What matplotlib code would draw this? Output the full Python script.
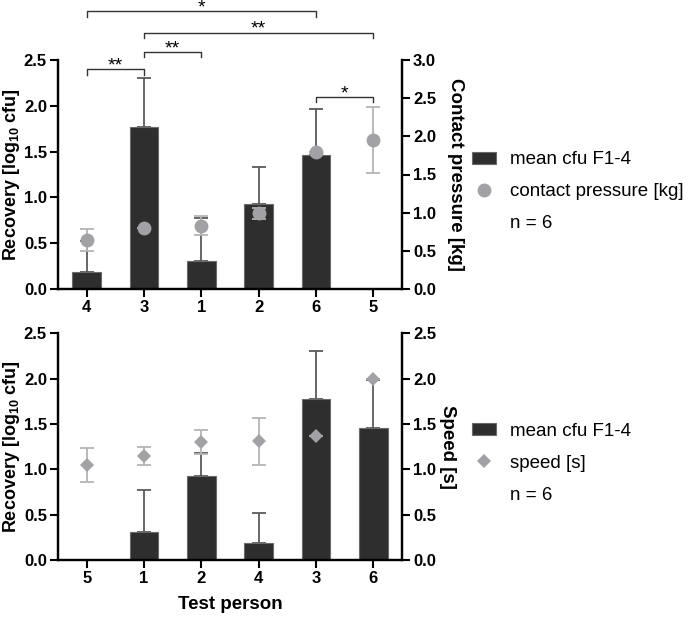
import matplotlib
matplotlib.use("Agg")
import matplotlib.pyplot as plt
from matplotlib.patches import Patch
from matplotlib.lines import Line2D
import numpy as np

plt.rcParams['font.family'] = ['Liberation Sans', 'DejaVu Sans']
plt.rcParams['mathtext.fontset'] = 'custom'
plt.rcParams['mathtext.bf'] = 'Liberation Sans:bold'
plt.rcParams['mathtext.rm'] = 'Liberation Sans:bold'
plt.rcParams['mathtext.default'] = 'bf'

# ---- data: top panel (sorted by contact pressure) ----
top_persons = ["4", "3", "1", "2", "6", "5"]
top_cfu = [0.19, 1.77, 0.31, 0.93, 1.46, 0.0]
top_cfu_sd = [0.33, 0.53, 0.46, 0.40, 0.51, 0.0]
pressure = [0.64, 0.80, 0.83, 0.99, 1.79, 1.95]
pressure_sd = [0.14, 0.0, 0.12, 0.07, 0.0, 0.43]

# significance brackets: (from index, to index, label, height in left-axis units)
brackets = [(0, 4, "*", 3.03), (1, 5, "**", 2.80), (1, 2, "**", 2.59),
            (0, 1, "**", 2.40), (4, 5, "*", 2.10)]

# ---- data: bottom panel (sorted by speed) ----
bot_persons = ["5", "1", "2", "4", "3", "6"]
bot_cfu = [0.0, 0.31, 0.93, 0.19, 1.77, 1.46]
bot_cfu_sd = [0.0, 0.46, 0.25, 0.33, 0.53, 0.52]
speed = [1.05, 1.15, 1.30, 1.31, 1.37, 2.00]
speed_sd = [0.19, 0.10, 0.13, 0.26, 0.0, 0.0]

BAR = '#2e2e2e'
BAR_EDGE = '#6a6a6a'
ERR = '#5a5a5a'
PT = '#a2a2a6'
PT_ERR = '#b4b4b4'

fig = plt.figure(figsize=(6.88, 6.22), dpi=100)
ax1 = fig.add_axes([58/688, 1 - 289/622, 344/688, 229/622])
ax2 = fig.add_axes([58/688, 1 - 560/622, 344/688, 226.7/622])


def style_axes(ax, rax):
    for a in (ax, rax):
        a.spines['top'].set_visible(False)
        for s in ('left', 'right', 'bottom'):
            a.spines[s].set_linewidth(1.6)
        a.tick_params(width=1.5, length=6, labelsize=12, pad=2)
        for lab in a.get_xticklabels() + a.get_yticklabels():
            lab.set_fontweight('bold')
    ax.set_xlim(-0.5, len(top_persons) - 0.5)


def draw_panel(ax, persons, cfu, cfu_sd, pts, pts_sd, marker, ms, rlim, rlabel, rpad):
    x = np.arange(len(persons))
    ax.bar(x, cfu, width=0.5, color=BAR, edgecolor=BAR_EDGE, linewidth=0.8, zorder=2)
    ax.errorbar(x, cfu, yerr=[np.zeros(len(cfu)), cfu_sd], fmt='none',
                ecolor=ERR, elinewidth=1.3, capsize=5, capthick=1.3, zorder=1)
    ax.set_ylim(0, 2.5)
    ax.set_yticks([0, 0.5, 1.0, 1.5, 2.0, 2.5])
    ax.set_xticks(x)
    ax.set_xticklabels(persons)
    ax.set_ylabel(r'Recovery [log$_{10}$ cfu]', fontsize=13, fontweight='bold', labelpad=1)

    rax = ax.twinx()
    rax.errorbar(x, pts, yerr=pts_sd, fmt='none', ecolor=PT_ERR,
                 elinewidth=1.3, capsize=5, capthick=1.3, zorder=2)
    rax.plot(x, pts, linestyle='none', marker=marker, ms=ms, color=PT,
             markeredgewidth=0, zorder=3)
    rax.set_ylim(*rlim)
    rax.set_yticks(np.arange(0, rlim[1] + 0.01, 0.5))
    rax.set_ylabel(rlabel, fontsize=13.5, fontweight='bold', rotation=-90,
                   labelpad=rpad, va='bottom')
    style_axes(ax, rax)
    return rax


rax1 = draw_panel(ax1, top_persons, top_cfu, top_cfu_sd, pressure, pressure_sd,
                  'o', 10, (0, 3.0), 'Contact pressure [kg]', 8)
rax2 = draw_panel(ax2, bot_persons, bot_cfu, bot_cfu_sd, speed, speed_sd,
                  'D', 7.5, (0, 2.5), 'Speed [s]', 2)
ax2.set_xlabel('Test person', fontsize=13.5, fontweight='bold', labelpad=7)

# significance brackets on top panel
for i, j, lab, h in brackets:
    tick = 0.06
    ax1.plot([i, i, j, j], [h - tick, h, h, h - tick], color='#333333', lw=1.0,
             clip_on=False, zorder=5)
    ax1.text((i + j) / 2, h - 0.015, lab, ha='center', va='baseline', fontsize=14,
             clip_on=False)

# legends
def add_legend(ax, marker, ms, label, y):
    handles = [Patch(facecolor=BAR, edgecolor=BAR_EDGE, linewidth=0.8),
               Line2D([], [], linestyle='none', marker=marker, ms=ms, color=PT,
                      markeredgewidth=0),
               Line2D([], [], linestyle='none')]
    ax.legend(handles, ['mean cfu F1-4', label, 'n = 6'], loc='center left',
              bbox_to_anchor=(472/688, y), bbox_transform=fig.transFigure,
              frameon=False, fontsize=13.5, handlelength=1.3, handleheight=0.6,
              handletextpad=0.75, labelspacing=0.8, borderpad=0, borderaxespad=0)

add_legend(rax1, 'o', 10, 'contact pressure [kg]', 1 - 192/622)
add_legend(rax2, 'D', 7.5, 'speed [s]', 1 - 463/622)

fig.savefig('out.png', dpi=100)
